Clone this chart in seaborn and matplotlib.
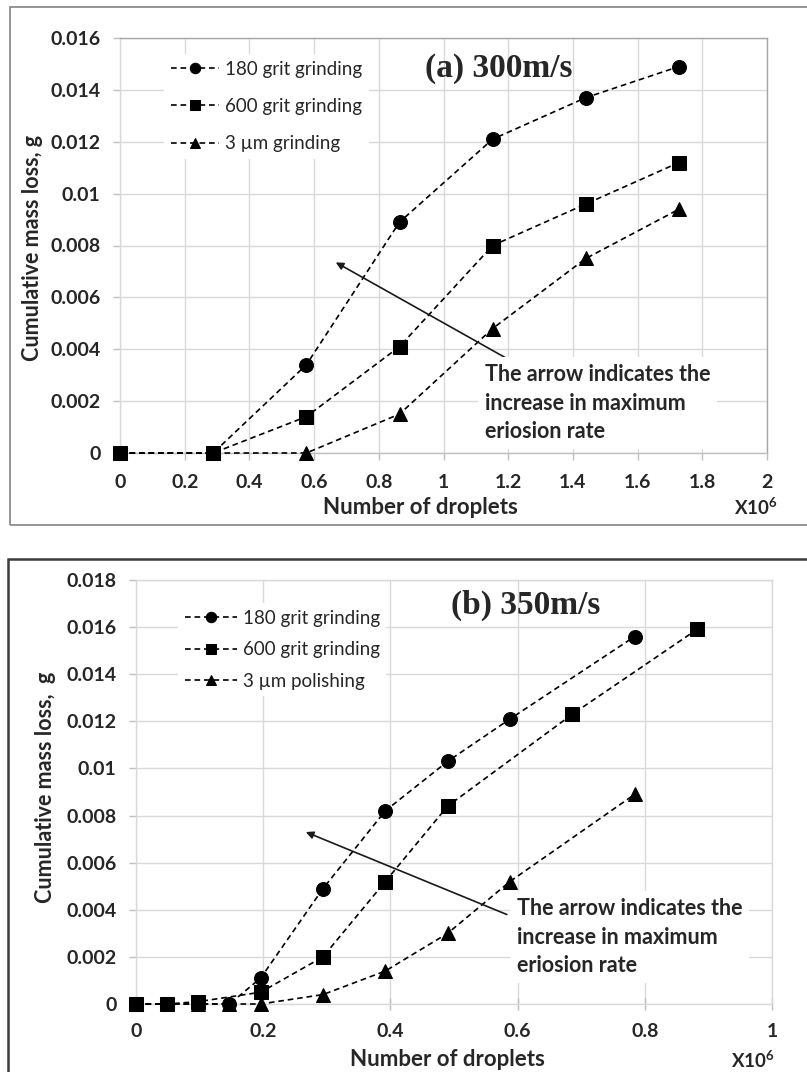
import matplotlib
matplotlib.use("Agg")
import matplotlib.pyplot as plt
import seaborn as sns
import pandas as pd
from matplotlib.patches import Rectangle
from matplotlib.ticker import FuncFormatter, MultipleLocator

# ---------------- data ----------------
series_names_a = ["180 grit grinding", "600 grit grinding", "3 \u00b5m grinding"]
series_names_b = ["180 grit grinding", "600 grit grinding", "3 \u00b5m polishing"]

a_x = [0, 0.288, 0.576, 0.864, 1.152, 1.440, 1.728]
a_180 = [0, 0, 0.0034, 0.0089, 0.0121, 0.0137, 0.0149]
a_600 = [0, 0, 0.0014, 0.0041, 0.0080, 0.0096, 0.0112]
a_3um = [0, 0, 0, 0.0015, 0.0048, 0.0075, 0.0094]

b_x_180 = [0, 0.098, 0.147, 0.196, 0.294, 0.392, 0.490, 0.588, 0.784]
b_180 = [0, 0, 0, 0.0011, 0.0049, 0.0082, 0.0103, 0.0121, 0.0156]
b_x_600 = [0, 0.049, 0.098, 0.196, 0.294, 0.392, 0.490, 0.686, 0.882]
b_600 = [0, 0, 0.0001, 0.0005, 0.0020, 0.0052, 0.0084, 0.0123, 0.0159]
b_x_3um = [0, 0.098, 0.147, 0.196, 0.294, 0.392, 0.490, 0.588, 0.784]
b_3um = [0, 0, 0, 0, 0.0004, 0.0014, 0.0030, 0.0052, 0.0089]

titles = ["(a) 300m/s", "(b) 350m/s"]
note = "The arrow indicates the\nincrease in maximum\neriosion rate"
xlabel = "Number of droplets"
ylabels = ["Cumulative mass loss, g", "Cumulative mass loss,  g"]
arrow_a = ((0.667, 0.00735), (1.222, 0.00346))
arrow_b = ((0.267, 0.0073), (0.583, 0.0038))

# ---------------- style ----------------
W, H = 807, 1072
def fx(px):
    return px / W
def fy(py):
    return 1 - py / H

sns.set_style("white")
plt.rcParams["font.family"] = ["Lato", "DejaVu Sans"]
plt.rcParams["mathtext.fontset"] = "custom"
plt.rcParams["mathtext.rm"] = "Lato"
plt.rcParams["mathtext.bf"] = "Lato:bold"

fig = plt.figure(figsize=(W / 100, H / 100), dpi=100)

# outer frames
fig.add_artist(Rectangle((fx(9.5), fy(525)), 1.0, (525 - 7) / H, transform=fig.transFigure,
                         fill=False, ec="#8c8c8c", lw=1.3))
fig.add_artist(Rectangle((fx(8), fy(1090)), 1.0, (1090 - 559) / H, transform=fig.transFigure,
                         fill=False, ec="#3c3c3c", lw=1.8))

ax1 = fig.add_axes([fx(120), fy(453), (767 - 120) / W, (453 - 38) / H])
ax2 = fig.add_axes([fx(136), fy(1004), (772 - 136) / W, (1004 - 580) / H])

markers = ["o", "s", "^"]
dash = (0, (3.4, 2.3))

def draw(ax, xs, ys, names):
    for x, y, m, n in zip(xs, ys, markers, names):
        df = pd.DataFrame({"x": x, "y": y})
        sns.lineplot(data=df, x="x", y="y", ax=ax, color="black", marker=m,
                     markersize=10, markeredgecolor="black", linestyle=dash,
                     linewidth=1.2, label=n, clip_on=False, zorder=3,
                     errorbar=None, sort=False)

draw(ax1, [a_x, a_x, a_x], [a_180, a_600, a_3um], series_names_a)
draw(ax2, [b_x_180, b_x_600, b_x_3um], [b_180, b_600, b_3um], series_names_b)

fmt = FuncFormatter(lambda v, p: f"{round(v, 4):g}")

for ax, xmax, ymax, xstep in [(ax1, 2, 0.016, 0.2), (ax2, 1, 0.018, 0.2)]:
    ax.set_xlim(0, xmax)
    ax.set_ylim(0, ymax)
    ax.xaxis.set_major_locator(MultipleLocator(xstep))
    ax.yaxis.set_major_locator(MultipleLocator(0.002))
    ax.xaxis.set_major_formatter(fmt)
    ax.yaxis.set_major_formatter(fmt)
    ax.grid(True, color="#d9d9d9", lw=1.0, zorder=0)
    ax.set_axisbelow(True)
    ax.tick_params(axis="y", which="major", length=5, width=1, color="#bfbfbf",
                   direction="out", left=True, pad=9, labelsize=14)
    ax.tick_params(axis="x", which="major", length=5, width=1, color="#bfbfbf",
                   direction="out", bottom=True, pad=10, labelsize=14)
    for lab in ax.get_xticklabels() + ax.get_yticklabels():
        lab.set_fontweight("bold")
    for s in ax.spines.values():
        s.set_color("#d9d9d9")
        s.set_linewidth(1.0)

ax1.spines["top"].set_color("#a6a6a6")
ax1.spines["right"].set_color("#a6a6a6")
ax1.spines["bottom"].set_color("#bfbfbf")
ax2.tick_params(axis="x", direction="inout", length=8)

# axis labels
ax1.set_xlabel(xlabel, fontsize=16, fontweight="bold", va="center")
ax1.xaxis.set_label_coords((420 - 120) / 647, (453 - 507) / 415)
ax1.set_ylabel(ylabels[0], fontsize=15.5, fontweight="bold", va="center")
ax1.yaxis.set_label_coords((33 - 120) / 647, (453 - 248) / 415)
ax2.set_xlabel(xlabel, fontsize=16, fontweight="bold", va="center")
ax2.xaxis.set_label_coords((447 - 136) / 636, (1004 - 1060) / 424)
ax2.set_ylabel(ylabels[1], fontsize=15.5, fontweight="bold", va="center")
ax2.yaxis.set_label_coords((46 - 136) / 636, (1004 - 787) / 424)

fig.text(fx(756), fy(507), r"$\mathbf{X10^6}$", fontsize=13.5, ha="center", va="center")
fig.text(fx(753), fy(1060), r"$\mathbf{X10^6}$", fontsize=13.5, ha="center", va="center")

# titles
fig.text(fx(499), fy(68), titles[0], family="Liberation Serif", fontweight="bold",
         fontsize=24, ha="center", va="center")
fig.text(fx(526), fy(605), titles[1], family="Liberation Serif", fontweight="bold",
         fontsize=24, ha="center", va="center")

# legends
for ax, anchor, spacing, hl in [(ax1, (164, 54), 1.08, 2.6), (ax2, (178, 603), 0.78, 2.8)]:
    leg = ax.legend(loc="upper left", bbox_to_anchor=(fx(anchor[0]), fy(anchor[1])),
                    bbox_transform=fig.transFigure, frameon=True, fancybox=False,
                    edgecolor="none", facecolor="white", framealpha=1.0,
                    fontsize=13.5, handlelength=hl, handletextpad=0.3,
                    labelspacing=spacing, borderpad=0.35, borderaxespad=0,
                    markerscale=0.75)
    leg.set_zorder(5)

# annotations
for ax, (head, tail), pos in [(ax1, arrow_a, (485, 403)), (ax2, arrow_b, (517, 937))]:
    ax.annotate("", xy=head, xytext=tail,
                arrowprops=dict(arrowstyle="-|>", color="#1a1a1a", lw=1.2,
                                mutation_scale=11, shrinkA=0, shrinkB=0), zorder=4)
    fig.text(fx(pos[0]), fy(pos[1]), note, fontsize=15.5, fontweight="bold",
             ha="left", va="center", linespacing=1.45, zorder=6,
             bbox=dict(fc="white", ec="none", pad=5))

fig.savefig("out.png", dpi=100)
